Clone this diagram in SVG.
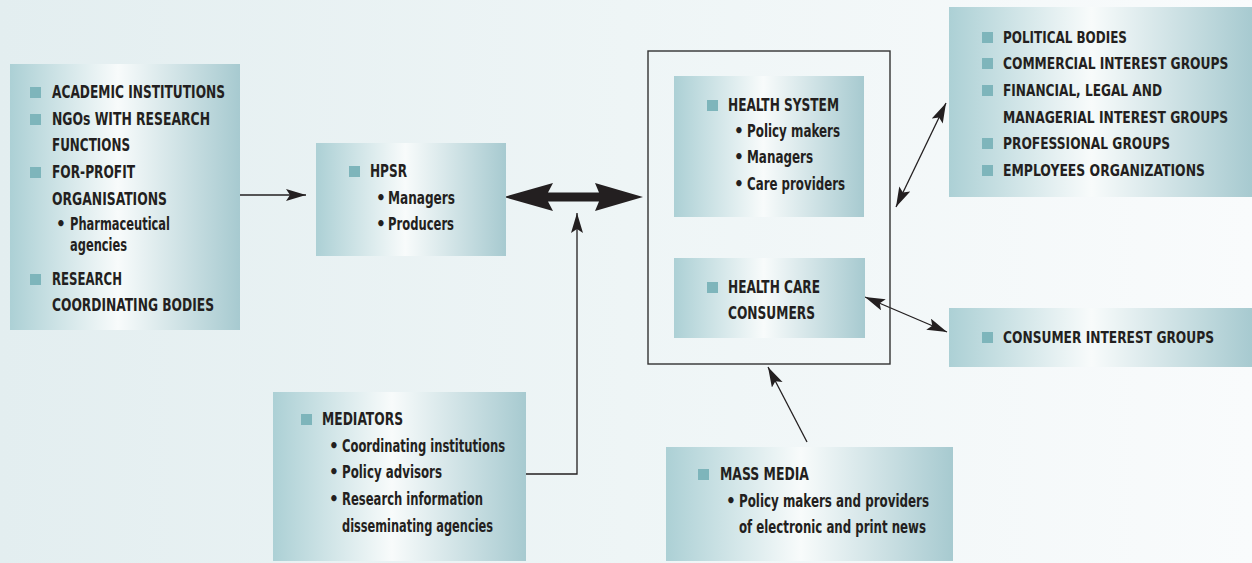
<svg xmlns="http://www.w3.org/2000/svg" width="1252" height="563" viewBox="0 0 1252 563">
<defs>
<linearGradient id="bg" x1="0" y1="0" x2="1" y2="0">
<stop offset="0" stop-color="#e3eef0"/>
<stop offset="0.5" stop-color="#eef5f6"/>
<stop offset="1" stop-color="#f9fbfc"/>
</linearGradient>
<linearGradient id="box" x1="0" y1="0" x2="1" y2="0">
<stop offset="0" stop-color="#acd0d5"/>
<stop offset="0.47" stop-color="#f8fbfb"/>
<stop offset="1" stop-color="#a7cad0"/>
</linearGradient>
<marker id="ah" markerUnits="userSpaceOnUse" markerWidth="22" markerHeight="14" refX="20" refY="6" orient="auto-start-reverse">
<path d="M0,0 L20,6 L0,12 L4,6 Z" fill="#231f20"/>
</marker>
</defs>
<style>
.box{fill:url(#box);}
.sq{fill:#7eb5bb;}
text{font-family:"DejaVu Sans Condensed","Liberation Sans Narrow","Liberation Sans",sans-serif;font-weight:bold;font-size:17.5px;fill:#231f20;}
.sub{font-size:17px;}
.rt{font-size:15.5px;}
.conn{fill:none;stroke:#231f20;stroke-width:1.3;}
.frame{fill:none;stroke:#333;stroke-width:1.4;}
</style>
<rect x="0" y="0" width="1252" height="563" fill="url(#bg)"/>

<g id="connectors">
<line class="conn" x1="240" y1="195" x2="306" y2="195" marker-end="url(#ah)"/>
<path d="M504,197 L553,183 L548,192.5 L599,192.5 L595,183 L643,197 L595,211 L599,201.5 L548,201.5 L553,211 Z" fill="#231f20"/>
<polyline class="conn" points="526,474 577,474 577,213" marker-end="url(#ah)"/>
<line class="conn" x1="807" y1="442" x2="768" y2="367" marker-end="url(#ah)"/>
<line class="conn" x1="896" y1="207" x2="946" y2="103" marker-start="url(#ah)" marker-end="url(#ah)"/>
<line class="conn" x1="865" y1="297" x2="947" y2="332" marker-start="url(#ah)" marker-end="url(#ah)"/>
</g>

<g id="research-producers">
<rect class="box" x="10" y="64" width="230" height="266"/>
<rect class="sq" x="30" y="87" width="11" height="11"/>
<text x="52" y="98" textLength="173" lengthAdjust="spacingAndGlyphs">ACADEMIC INSTITUTIONS</text>
<rect class="sq" x="30" y="114" width="11" height="11"/>
<text x="52" y="125" textLength="158" lengthAdjust="spacingAndGlyphs">NGOs WITH RESEARCH</text>
<text x="52" y="151" textLength="78" lengthAdjust="spacingAndGlyphs">FUNCTIONS</text>
<rect class="sq" x="30" y="167" width="11" height="11"/>
<text x="52" y="178" textLength="83" lengthAdjust="spacingAndGlyphs">FOR-PROFIT</text>
<text x="52" y="205" textLength="115" lengthAdjust="spacingAndGlyphs">ORGANISATIONS</text>
<text class="sub" x="56" y="230">•</text>
<text class="sub" x="70" y="230" textLength="100" lengthAdjust="spacingAndGlyphs">Pharmaceutical</text>
<text class="sub" x="70" y="251" textLength="57" lengthAdjust="spacingAndGlyphs">agencies</text>
<rect class="sq" x="30" y="274" width="11" height="11"/>
<text x="52" y="285" textLength="70" lengthAdjust="spacingAndGlyphs">RESEARCH</text>
<text x="52" y="311" textLength="162" lengthAdjust="spacingAndGlyphs">COORDINATING BODIES</text>
</g>

<g id="hpsr">
<rect class="box" x="316" y="143" width="190" height="113"/>
<rect class="sq" x="349" y="166" width="11" height="11"/>
<text x="370" y="177" textLength="37" lengthAdjust="spacingAndGlyphs">HPSR</text>
<text class="sub" x="376" y="204">•</text>
<text class="sub" x="388" y="204" textLength="67" lengthAdjust="spacingAndGlyphs">Managers</text>
<text class="sub" x="376" y="230">•</text>
<text class="sub" x="388" y="230" textLength="66" lengthAdjust="spacingAndGlyphs">Producers</text>
</g>

<g id="health-frame">
<rect class="frame" x="648" y="51" width="242" height="313"/>
</g>

<g id="health-system">
<rect class="box" x="674" y="76" width="190" height="141"/>
<rect class="sq" x="707" y="100" width="11" height="11"/>
<text x="728" y="111" textLength="111" lengthAdjust="spacingAndGlyphs">HEALTH SYSTEM</text>
<text class="sub" x="734" y="137">•</text>
<text class="sub" x="747" y="137" textLength="93" lengthAdjust="spacingAndGlyphs">Policy makers</text>
<text class="sub" x="734" y="163">•</text>
<text class="sub" x="747" y="163" textLength="66" lengthAdjust="spacingAndGlyphs">Managers</text>
<text class="sub" x="734" y="190">•</text>
<text class="sub" x="747" y="190" textLength="98" lengthAdjust="spacingAndGlyphs">Care providers</text>
</g>

<g id="health-care-consumers">
<rect class="box" x="674" y="258" width="191" height="80"/>
<rect class="sq" x="707" y="282" width="11" height="11"/>
<text x="728" y="293" textLength="92" lengthAdjust="spacingAndGlyphs">HEALTH CARE</text>
<text x="728" y="319" textLength="87" lengthAdjust="spacingAndGlyphs">CONSUMERS</text>
</g>

<g id="interest-groups">
<rect class="box" x="949" y="7" width="303" height="190"/>
<rect class="sq" x="982" y="32" width="11" height="11"/>
<text class="rt" x="1003" y="43" textLength="124" lengthAdjust="spacingAndGlyphs">POLITICAL BODIES</text>
<rect class="sq" x="982" y="58" width="11" height="11"/>
<text class="rt" transform="translate(1003,69) scale(0.85,1)" x="0" y="0" textLength="265" lengthAdjust="spacingAndGlyphs">COMMERCIAL INTEREST GROUPS</text>
<rect class="sq" x="982" y="85" width="11" height="11"/>
<text class="rt" x="1003" y="96" textLength="159" lengthAdjust="spacingAndGlyphs">FINANCIAL, LEGAL AND</text>
<text class="rt" transform="translate(1003,123) scale(0.85,1)" x="0" y="0" textLength="265" lengthAdjust="spacingAndGlyphs">MANAGERIAL INTEREST GROUPS</text>
<rect class="sq" x="982" y="138" width="11" height="11"/>
<text class="rt" x="1003" y="149" textLength="167" lengthAdjust="spacingAndGlyphs">PROFESSIONAL GROUPS</text>
<rect class="sq" x="982" y="165" width="11" height="11"/>
<text class="rt" x="1003" y="176" textLength="202" lengthAdjust="spacingAndGlyphs">EMPLOYEES ORGANIZATIONS</text>
</g>

<g id="consumer-interest-groups">
<rect class="box" x="949" y="308" width="303" height="59"/>
<rect class="sq" x="982" y="332" width="11" height="11"/>
<text class="rt" x="1003" y="343" textLength="211" lengthAdjust="spacingAndGlyphs">CONSUMER INTEREST GROUPS</text>
</g>

<g id="mediators">
<rect class="box" x="273" y="392" width="253" height="169"/>
<rect class="sq" x="301" y="414" width="11" height="11"/>
<text x="322" y="425" textLength="81" lengthAdjust="spacingAndGlyphs">MEDIATORS</text>
<text class="sub" x="329" y="452">•</text>
<text class="sub" x="342" y="452" textLength="163" lengthAdjust="spacingAndGlyphs">Coordinating institutions</text>
<text class="sub" x="329" y="478">•</text>
<text class="sub" x="342" y="478" textLength="100" lengthAdjust="spacingAndGlyphs">Policy advisors</text>
<text class="sub" x="329" y="505">•</text>
<text class="sub" x="342" y="505" textLength="141" lengthAdjust="spacingAndGlyphs">Research information</text>
<text class="sub" x="342" y="532" textLength="151" lengthAdjust="spacingAndGlyphs">disseminating agencies</text>
</g>

<g id="mass-media">
<rect class="box" x="666" y="447" width="287" height="114"/>
<rect class="sq" x="698" y="469" width="11" height="11"/>
<text x="720" y="480" textLength="89" lengthAdjust="spacingAndGlyphs">MASS MEDIA</text>
<text class="sub" x="726" y="507">•</text>
<text class="sub" x="739" y="507" textLength="190" lengthAdjust="spacingAndGlyphs">Policy makers and providers</text>
<text class="sub" x="739" y="533" textLength="187" lengthAdjust="spacingAndGlyphs">of electronic and print news</text>
</g>
</svg>
